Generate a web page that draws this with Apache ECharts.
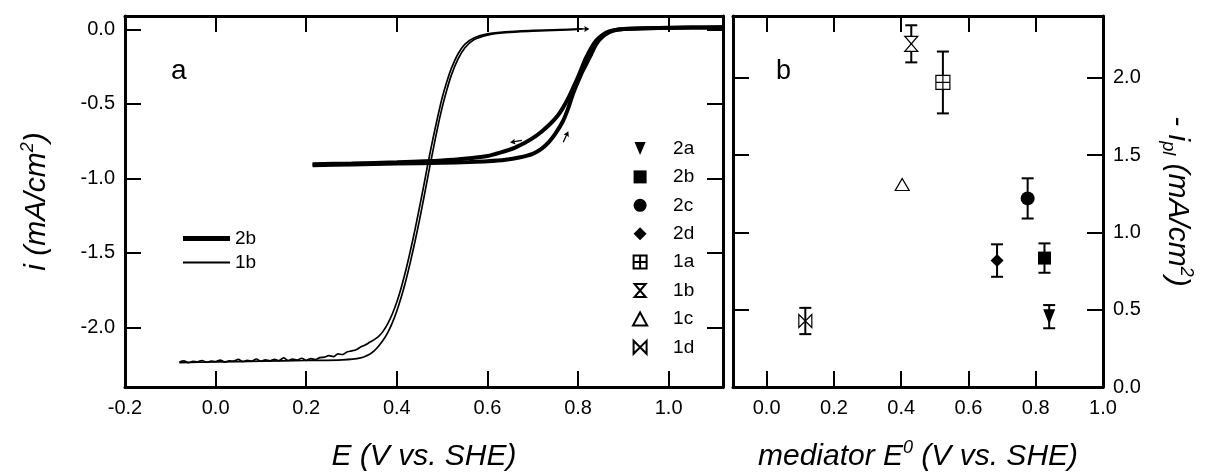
<!DOCTYPE html>
<html>
<head>
<meta charset="utf-8">
<script src="https://cdn.jsdelivr.net/npm/echarts@6/dist/echarts.min.js"></script>
<style>
  html, body { margin: 0; padding: 0; background: #fff; }
  #chart { width: 1212px; height: 473px; }
</style>
</head>
<body>
<div id="chart"></div>
<script>
// panel a: voltammograms, [E (V), i (mA/cm2)]
const cv1bA = [
  [-0.08, -2.232], [-0.07, -2.225], [-0.06, -2.236], [-0.05, -2.228], [-0.04, -2.231], [-0.03, -2.222],
  [-0.02, -2.234], [-0.01, -2.226], [0.00, -2.229], [0.01, -2.219], [0.02, -2.233], [0.03, -2.224],
  [0.04, -2.227], [0.05, -2.215], [0.06, -2.229], [0.07, -2.221], [0.08, -2.226], [0.09, -2.212],
  [0.10, -2.228], [0.11, -2.218], [0.12, -2.225], [0.13, -2.214], [0.14, -2.223], [0.15, -2.205],
  [0.16, -2.222], [0.17, -2.213], [0.18, -2.219], [0.19, -2.207], [0.20, -2.221], [0.21, -2.21],
  [0.22, -2.216], [0.23, -2.203], [0.24, -2.2], [0.25, -2.19], [0.26, -2.196], [0.27, -2.178],
  [0.28, -2.182], [0.29, -2.165], [0.30, -2.158], [0.31, -2.15], [0.32, -2.132], [0.33, -2.118],
  [0.34, -2.1], [0.35, -2.082], [0.36, -2.06], [0.37, -2.025], [0.38, -1.975], [0.39, -1.91],
  [0.40, -1.83], [0.41, -1.73], [0.42, -1.615], [0.43, -1.485], [0.44, -1.345], [0.45, -1.195],
  [0.46, -1.04], [0.47, -0.88], [0.48, -0.73], [0.49, -0.59], [0.50, -0.46], [0.51, -0.355],
  [0.52, -0.265], [0.535, -0.165], [0.55, -0.1], [0.57, -0.058], [0.60, -0.03], [0.64, -0.016],
  [0.70, -0.007], [0.76, -0.001], [0.81, 0.004]
]
const cv1bB = [
  [-0.08, -2.236], [0.0, -2.232], [0.1, -2.227], [0.2, -2.222], [0.28, -2.218], [0.32, -2.205],
  [0.34, -2.18], [0.35, -2.158], [0.36, -2.125], [0.37, -2.085], [0.38, -2.035], [0.39, -1.97],
  [0.40, -1.89], [0.41, -1.795], [0.42, -1.685], [0.43, -1.56], [0.44, -1.425], [0.45, -1.28],
  [0.46, -1.125], [0.47, -0.965], [0.48, -0.81], [0.49, -0.66], [0.50, -0.525], [0.51, -0.41],
  [0.52, -0.31], [0.535, -0.2], [0.55, -0.125], [0.57, -0.07], [0.60, -0.038], [0.64, -0.022],
  [0.70, -0.012], [0.76, -0.005], [0.80, 0.0]
]
const cv2bA = [
  [0.214, -0.905], [0.30, -0.9], [0.40, -0.892], [0.50, -0.88], [0.56, -0.865], [0.60, -0.85],
  [0.63, -0.825], [0.66, -0.795], [0.68, -0.765], [0.70, -0.73], [0.72, -0.685], [0.74, -0.63],
  [0.755, -0.58], [0.766, -0.53], [0.777, -0.47], [0.788, -0.4], [0.80, -0.32], [0.81, -0.245],
  [0.817, -0.195], [0.83, -0.12], [0.84, -0.075], [0.855, -0.035], [0.87, -0.012], [0.89, 0.0],
  [0.95, 0.008], [1.05, 0.012], [1.12, 0.015]
]
const cv2bB = [
  [0.214, -0.912], [0.30, -0.906], [0.40, -0.9], [0.50, -0.895], [0.56, -0.89], [0.60, -0.885],
  [0.64, -0.875], [0.67, -0.86], [0.70, -0.835], [0.72, -0.8], [0.736, -0.755], [0.75, -0.7],
  [0.766, -0.62], [0.777, -0.54], [0.788, -0.44], [0.80, -0.35], [0.81, -0.28], [0.817, -0.24],
  [0.83, -0.16], [0.839, -0.105], [0.847, -0.07], [0.86, -0.035], [0.875, -0.012], [0.89, 0.0],
  [0.95, 0.008], [1.05, 0.012], [1.12, 0.015]
]
// small scan-direction arrows: [E, i, rotation deg]
const scanArrows = [[0.663, -0.752, 100], [0.773, -0.72, -25], [0.812, 0.003, -90]]

// panel b: mediator potentials and plateau currents
const mediators = ['2a', '2b', '2c', '2d', '1a', '1b', '1c', '1d']
const medE0 = [0.84, 0.826, 0.776, 0.685, 0.524, 0.43, 0.403, 0.115]
const iPl = [0.455, 0.834, 1.22, 0.818, 1.97, 2.22, 1.31, 0.427]
const iPlErr = [0.075, 0.095, 0.13, 0.105, 0.2, 0.12, 0, 0.085]

const xTicksA = [0, 0.2, 0.4, 0.6, 0.8, 1.0]
const xLabelsA = [-0.2, 0, 0.2, 0.4, 0.6, 0.8, 1.0]
const yTicksA = [-2, -1.5, -1, -0.5, 0]
const xTicksB = [0, 0.2, 0.4, 0.6, 0.8]
const xLabelsB = [0, 0.2, 0.4, 0.6, 0.8, 1.0]
const yTicksB = [0.5, 1, 1.5, 2]
const yLabelsB = [0, 0.5, 1, 1.5, 2]

const FONT = "'Liberation Sans', Arial, sans-serif"
const INK = '#000'

const SYMBOLS = {
  '2a': { path: 'path://M0,0 L12,0 L6,14 Z', size: [12, 15], fill: INK },
  '2b': { path: 'path://M0,0 L10,0 L10,10 L0,10 Z', size: 13, fill: INK },
  '2c': { path: 'path://M7,0 A7,7 0 1,1 7,14 A7,7 0 1,1 7,0 Z', size: 14, fill: INK },
  '2d': { path: 'path://M6,0 L12,6 L6,12 L0,6 Z', size: 13, fill: INK },
  '1a': { path: 'path://M0,0 L12,0 L12,12 L0,12 Z M6,0 L6,12 M0,6 L12,6', size: 14, fill: '#fff' },
  '1b': { path: 'path://M0,0 L12,0 L0,14 L12,14 Z', size: [13, 15], fill: '#fff' },
  '1c': { path: 'path://M6,0 L12,11 L0,11 Z', size: [14, 12], fill: '#fff' },
  '1d': { path: 'path://M0,0 L12,12 L12,0 L0,12 Z', size: 13, fill: '#fff' },
}

function fmt(v) { return v.toFixed(1) }

function axis(kind, grid, pos, min, max, ticks, labels, extra) {
  return Object.assign({
    type: 'value', gridIndex: grid, position: pos, min: min, max: max,
    axisLine: { show: true, onZero: false, lineStyle: { color: INK, width: 3 } },
    axisTick: { show: true, inside: true, length: 16, customValues: ticks, lineStyle: { color: INK, width: 2 } },
    axisLabel: labels
      ? { show: true, customValues: labels, formatter: fmt, color: INK, fontFamily: FONT, fontSize: 20, margin: kind === 'x' ? 11 : 10 }
      : { show: false },
    splitLine: { show: false },
  }, extra || {})
}

const titleRich = {
  t: { fontFamily: FONT, fontStyle: 'italic', fontSize: 30, color: INK, lineHeight: 36 },
  s: { fontFamily: FONT, fontStyle: 'italic', fontSize: 18, color: INK, lineHeight: 18, verticalAlign: 'top' },
  b: { fontFamily: FONT, fontStyle: 'italic', fontSize: 18, color: INK, lineHeight: 18, verticalAlign: 'bottom' },
}

function renderErr(params, api) {
  const x = api.value(0), y = api.value(1), e = api.value(2)
  if (!e) return null
  const top = api.coord([x, y + e])
  const bot = api.coord([x, y - e])
  const half = 6
  const style = { stroke: INK, lineWidth: 2 }
  return {
    type: 'group',
    children: [
      { type: 'line', shape: { x1: top[0], y1: top[1], x2: bot[0], y2: bot[1] }, style: style },
      { type: 'line', shape: { x1: top[0] - half, y1: top[1], x2: top[0] + half, y2: top[1] }, style: style },
      { type: 'line', shape: { x1: bot[0] - half, y1: bot[1], x2: bot[0] + half, y2: bot[1] }, style: style },
    ],
  }
}

const cvLine = (name, data, w) => ({
  name: name, type: 'line', xAxisIndex: 0, yAxisIndex: 0, data: data,
  showSymbol: false, symbol: 'none', smooth: 0.3, color: INK,
  lineStyle: { color: INK, width: w }, z: 3,
})

const series = [
  cvLine('cv2b', cv2bA, 4),
  cvLine('cv2b', cv2bB, 4),
  cvLine('cv1b', cv1bA, 1.7),
  cvLine('cv1b', cv1bB, 1.7),
  {
    name: 'arrows', type: 'scatter', xAxisIndex: 0, yAxisIndex: 0,
    data: scanArrows.map(a => ({ value: [a[0], a[1]], symbolRotate: a[2] })),
    symbol: 'path://M5,0 L10,7 L6,6 L6,16 L4,16 L4,6 L0,7 Z', symbolSize: [6, 12],
    itemStyle: { color: INK, opacity: 1 }, z: 4,
  },
  {
    name: 'err', type: 'custom', xAxisIndex: 2, yAxisIndex: 2,
    data: mediators.map((m, k) => [medE0[k], iPl[k], iPlErr[k]]),
    renderItem: renderErr, encode: { x: 0, y: 1 }, z: 2,
  },
]
mediators.forEach((m, k) => {
  const s = SYMBOLS[m]
  series.push({
    name: m, type: 'scatter', xAxisIndex: 2, yAxisIndex: 2,
    data: [[medE0[k], iPl[k]]],
    symbol: s.path, symbolSize: s.size,
    itemStyle: { color: s.fill, borderColor: INK, borderWidth: s.fill === INK ? 0 : 1.2, opacity: 1 },
    z: 5,
  })
})

const option = {
  animation: false,
  backgroundColor: '#fff',
  grid: [
    { left: 125, top: 16, width: 598, height: 371, outerBoundsMode: 'none', containLabel: false },
    { left: 733, top: 16, width: 370, height: 371, outerBoundsMode: 'none', containLabel: false },
  ],
  xAxis: [
    axis('x', 0, 'bottom', -0.2, 1.12, xTicksA, xLabelsA, {
      name: '{t|E (V vs. SHE)}', nameLocation: 'middle', nameGap: 52,
      nameTextStyle: { rich: titleRich },
    }),
    axis('x', 0, 'top', -0.2, 1.12, xTicksA, null),
    axis('x', 1, 'bottom', -0.1, 1.0, xTicksB, xLabelsB, {
      name: '{t|mediator E}{s|0}{t| (V vs. SHE)}', nameLocation: 'middle', nameGap: 52,
      nameTextStyle: { rich: titleRich },
    }),
    axis('x', 1, 'top', -0.1, 1.0, xTicksB, null),
  ],
  yAxis: [
    axis('y', 0, 'left', -2.4, 0.09, yTicksA, yTicksA, {
      name: '{t|i (mA/cm}{s|2}{t|)}', nameLocation: 'middle', nameGap: 70, nameRotate: 90,
      nameTextStyle: { rich: titleRich },
    }),
    axis('y', 0, 'right', -2.4, 0.09, yTicksA, null),
    axis('y', 1, 'right', 0, 2.4, yTicksB, yLabelsB, {
      name: '{t|- i}{b|pl}{t| (mA/cm}{s|2}{t|)}', nameLocation: 'middle', nameGap: 56, nameRotate: -90,
      nameTextStyle: { rich: titleRich },
    }),
    axis('y', 1, 'left', 0, 2.4, yTicksB, null),
  ],
  legend: [
    {
      data: ['cv2b'], left: 178, top: 224, orient: 'vertical', icon: 'rect',
      itemWidth: 47, itemHeight: 5, selectedMode: false,
      formatter: () => '2b',
      textStyle: { color: INK, fontFamily: FONT, fontSize: 19 },
    },
    {
      data: ['cv1b'], left: 178, top: 248, orient: 'vertical', icon: 'rect',
      itemWidth: 47, itemHeight: 2, selectedMode: false,
      formatter: () => '1b',
      textStyle: { color: INK, fontFamily: FONT, fontSize: 19 },
    },
    {
      data: mediators, left: 627, top: 134, orient: 'vertical',
      itemWidth: 56, itemHeight: 13, itemGap: 9.4, selectedMode: false,
      textStyle: { color: INK, fontFamily: FONT, fontSize: 19 },
    },
  ],
  graphic: [
    { type: 'text', left: 171, top: 57, style: { text: 'a', font: '28px ' + FONT, fill: INK } },
    { type: 'text', left: 776, top: 58, style: { text: 'b', font: '27px ' + FONT, fill: INK } },
  ],
  series: series,
}

const chart = echarts.init(document.getElementById('chart'), null, { renderer: 'canvas' })
chart.setOption(option)
</script>
</body>
</html>
